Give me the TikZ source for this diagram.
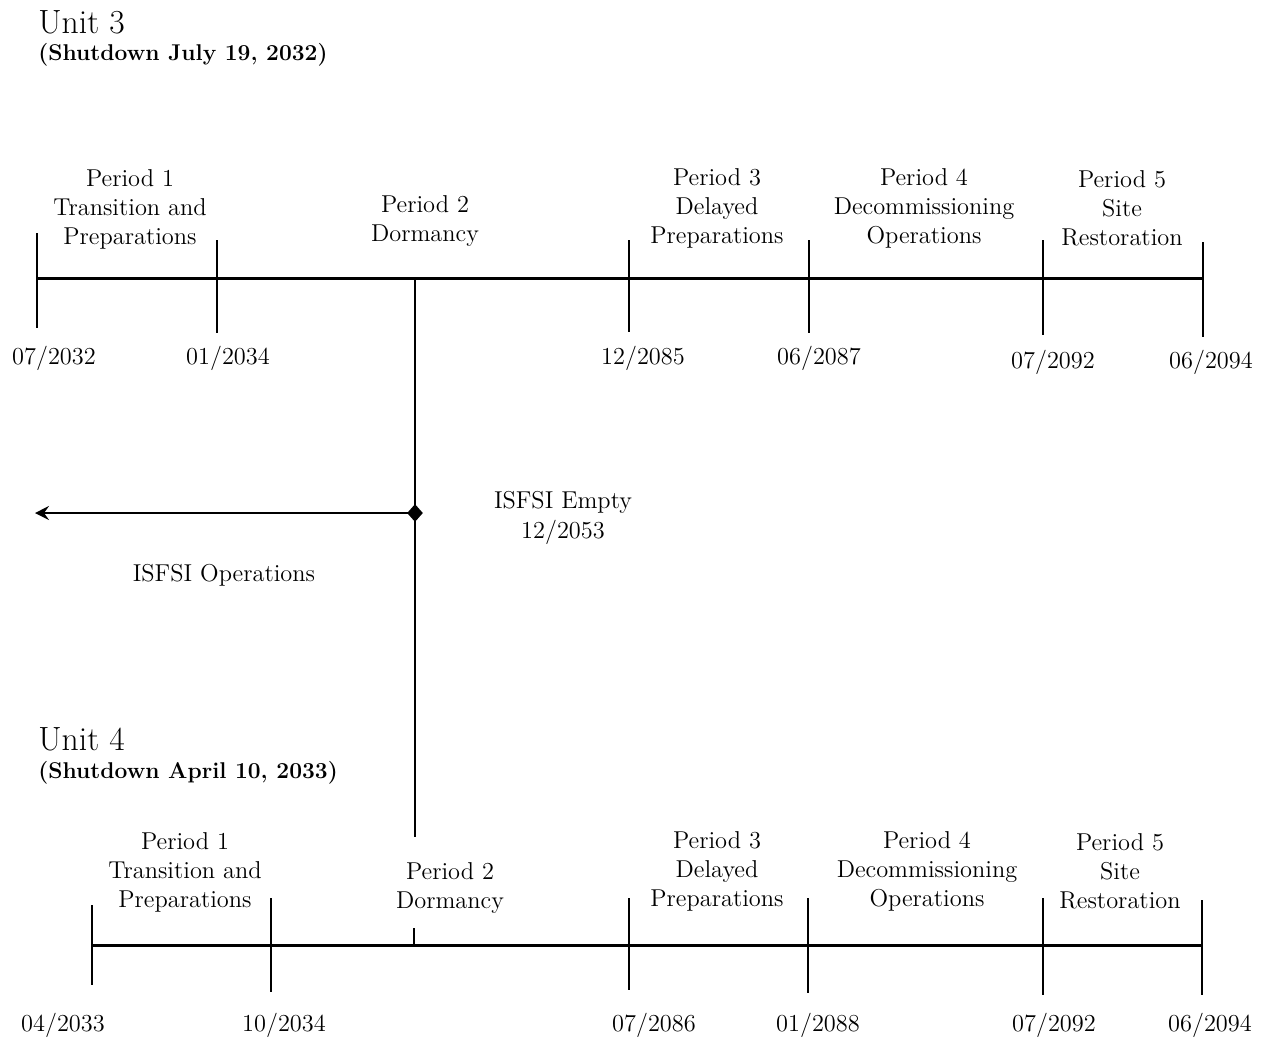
\documentclass[tikz,border=0pt]{standalone}
\usetikzlibrary{arrows.meta,shapes.geometric}
\begin{document}
\begin{tikzpicture}[x=0.5pt,y=-0.5pt,
  lbl/.style={align=center,font=\fontsize{12.2}{14.5}\selectfont,inner sep=0pt},
  dt/.style={font=\fontsize{12.2}{14.5}\selectfont,inner sep=0pt},
  ttl/.style={anchor=west,font=\fontsize{16.8}{19}\selectfont,inner sep=0pt},
  sub/.style={anchor=west,font=\fontsize{11.4}{13.5}\selectfont\bfseries,inner sep=0pt},
  axisline/.style={line width=1.5pt},
  tickline/.style={line width=1.1pt},
  junction/.style={diamond,fill=black,inner sep=0pt,minimum width=8pt,minimum height=9pt}]
\useasboundingbox (0,0) rectangle (1264,1041);

% ---------- Unit 3 ----------
\node[ttl] (u3) at (38,22) {Unit 3};
\node[sub] (u3s) at (38,55) {(Shutdown July 19, 2032)};

\coordinate (a3s) at (37,278);
\coordinate (a3e) at (1203,278);
\draw[axisline] (a3s) -- (a3e);

\foreach \n/\x/\t/\b in {A/37/233/328,B/217/240/333,C/629/240/332,D/809/240/333,E/1043/240/335,F/1203/242/337}{
  \coordinate (t3\n) at (\x,\t);
  \coordinate (b3\n) at (\x,\b);
  \draw[tickline] (t3\n) -- (b3\n);
}

\node[lbl] (p31) at (130,209) {Period 1\\Transition and\\Preparations};
\node[lbl] (p32) at (425,221) {Period 2\\Dormancy};
\node[lbl] (p33) at (717,208) {Period 3\\Delayed\\Preparations};
\node[lbl] (p34) at (924,208) {Period 4\\Decommissioning\\Operations};
\node[lbl] (p35) at (1122,208) {Period 5\\Site\\Restoration};

\node[dt] (d31) at (54,358) {07/2032};
\node[dt] (d32) at (228,358) {01/2034};
\node[dt] (d33) at (643,358) {12/2085};
\node[dt] (d34) at (819,358) {06/2087};
\node[dt] (d35) at (1053,362) {07/2092};
\node[dt] (d36) at (1211,362) {06/2094};

% ---------- ISFSI ----------
\coordinate (vtop) at (415,278);
\coordinate (vbot) at (415,837);
\draw[tickline] (vtop) -- (vbot);
\node[junction] (dia) at (415,513) {};
\coordinate (arrend) at (35,513);
\draw[tickline,-{Stealth[length=7pt,width=7pt,inset=2.5pt]}] (dia.center) -- (arrend);
\node[dt] (empty) at (563,502) {ISFSI Empty};
\node[dt] (emptyd) at (563,532) {12/2053};
\node[dt] (ops) at (224,575) {ISFSI Operations};

% ---------- Unit 4 ----------
\node[ttl] (u4) at (38,739) {Unit 4};
\node[sub] (u4s) at (38,773) {(Shutdown April 10, 2033)};

\coordinate (a4s) at (92,945);
\coordinate (a4e) at (1203,945);
\draw[axisline] (a4s) -- (a4e);

\foreach \n/\x/\t/\b in {A/92/905/985,B/271/898/992,C/629/898/990,D/808/898/993,E/1043/898/995,F/1202/900/995}{
  \coordinate (t4\n) at (\x,\t);
  \coordinate (b4\n) at (\x,\b);
  \draw[tickline] (t4\n) -- (b4\n);
}
\coordinate (t4M) at (414,928);
\coordinate (b4M) at (414,945);
\draw[tickline] (t4M) -- (b4M);

\node[lbl] (p41) at (185,872) {Period 1\\Transition and\\Preparations};
\node[lbl] (p42) at (450,888) {Period 2\\Dormancy};
\node[lbl] (p43) at (717,871) {Period 3\\Delayed\\Preparations};
\node[lbl] (p44) at (927,871) {Period 4\\Decommissioning\\Operations};
\node[lbl] (p45) at (1120,871) {Period 5\\Site\\Restoration};

\node[dt] (d41) at (63,1025) {04/2033};
\node[dt] (d42) at (284,1025) {10/2034};
\node[dt] (d43) at (654,1025) {07/2086};
\node[dt] (d44) at (818,1025) {01/2088};
\node[dt] (d45) at (1054,1025) {07/2092};
\node[dt] (d46) at (1210,1025) {06/2094};
\end{tikzpicture}
\end{document}
